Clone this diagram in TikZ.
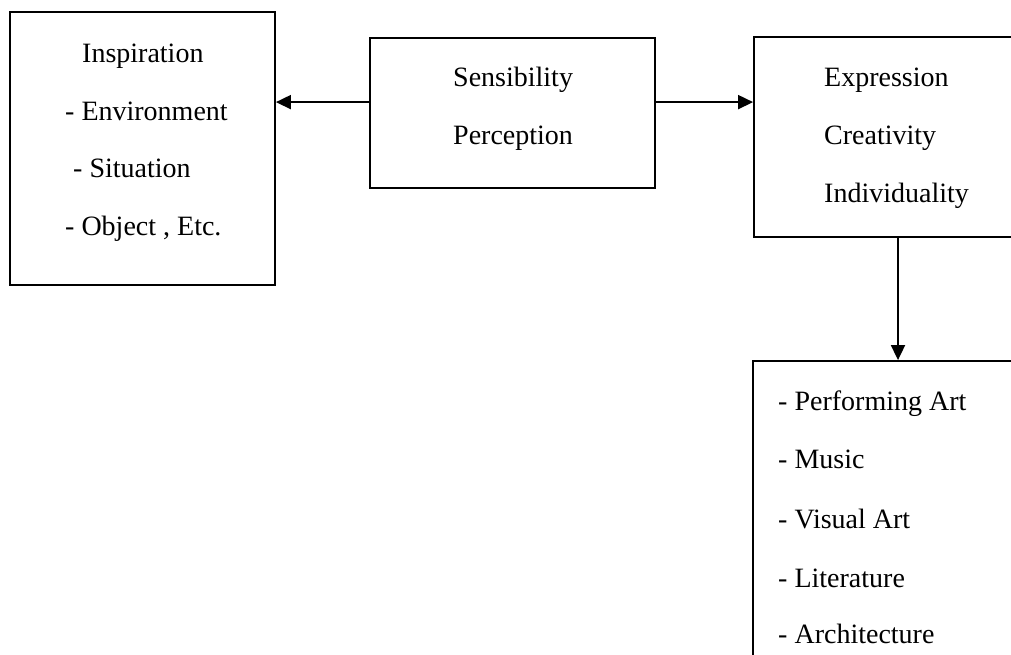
\documentclass[tikz,border=0pt]{standalone}
\usepackage{fontspec}
\setmainfont{Liberation Serif}
\usetikzlibrary{arrows.meta,calc}
\begin{document}
\begin{tikzpicture}[x=1pt,y=-1pt,
  boxnode/.style={draw=black,line width=1.8pt,rectangle,inner sep=0pt},
  lbl/.style={anchor=base west,inner sep=0pt,font=\fontsize{28}{34}\selectfont},
  arr/.style={line width=1.8pt,-{Triangle[length=15pt,width=14pt]}}]
\useasboundingbox (0,0) rectangle (1011,655);
\clip (0,0) rectangle (1011,655);
\fill[white] (0,0) rectangle (1011,655);
\node[boxnode,minimum width=265pt,minimum height=273pt] (b1) at (142.5,148.5) {};
\node[boxnode,minimum width=285pt,minimum height=150pt] (b2) at (512.5,113) {};
\node[boxnode,minimum width=261pt,minimum height=200pt] (b3) at (884.5,137) {};
\node[boxnode,minimum width=262pt,minimum height=299pt] (b4) at (884,510.5) {};
% texts
\node[lbl] (t1) at (82,63) {Inspiration};
\node[lbl] (t2) at (65,121) {- Environment};
\node[lbl] (t3) at (73,178) {- Situation};
\node[lbl] (t4) at (65,235) {- Object , Etc.};
\node[lbl] (s1) at (453,87) {Sensibility};
\node[lbl] (s2) at (453,145) {Perception};
\node[lbl] (e1) at (824,87) {Expression};
\node[lbl] (e2) at (824,145) {Creativity};
\node[lbl] (e3) at (824,203) {Individuality};
\node[lbl] (p1) at (778,410) {- Performing Art};
\node[lbl] (p2) at (778,468) {- Music};
\node[lbl] (p3) at (778,528) {- Visual Art};
\node[lbl] (p4) at (778,587) {- Literature};
\node[lbl] (p5) at (778,643) {- Architecture};
% arrows
\coordinate (la) at ([yshift=-65pt]b2.north west);
\coordinate (ra) at ([yshift=-65pt]b2.north east);
\draw[arr] (la) -- (b1.east |- la);
\draw[arr] (ra) -- (b3.west |- ra);
\coordinate (da) at ([xshift=13.5pt]b3.south);
\draw[arr] (da) -- (da |- b4.north);
\end{tikzpicture}
\end{document}
